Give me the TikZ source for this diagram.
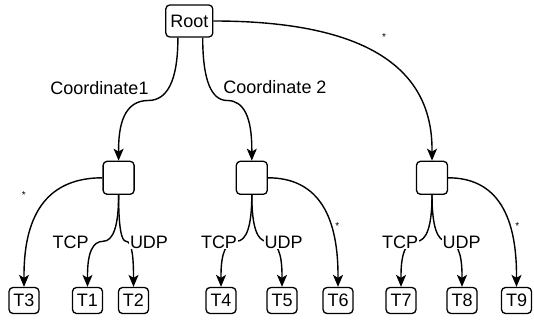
\documentclass[tikz,border=0pt]{standalone}
\usepackage{fontspec}
\setmainfont{Liberation Sans}
\usetikzlibrary{arrows.meta}
\begin{document}
\begin{tikzpicture}[x=1pt,y=-1pt,
  box/.style={draw, line width=1.3pt, rounded corners=4pt, inner sep=0pt, fill=white,
    font=\fontsize{18}{20}\selectfont},
  rootbox/.style={box, minimum width=47pt, minimum height=32pt},
  midbox/.style={box, minimum width=31pt, minimum height=33pt},
  leaf/.style={box, minimum width=30pt, minimum height=26pt},
  edge/.style={line width=1.4pt, -{Stealth[length=12pt,width=10pt,inset=3pt]}},
  lbl/.style={fill=white, inner sep=1pt, font=\fontsize{18}{20}\selectfont},
  star/.style={inner sep=0pt, font=\fontsize{10}{12}\selectfont}
]
\useasboundingbox (0,0) rectangle (534,326);

\node[rootbox] (root) at (189.3,21) {Root};
\node[midbox] (m1) at (118.6,177.8) {};
\node[midbox] (m2) at (251.8,177.8) {};
\node[midbox] (m3) at (432,177.8) {};

\node[leaf] (t3) at (24,300.5) {T3};
\node[leaf] (t1) at (87.5,300.5) {T1};
\node[leaf] (t2) at (133.5,300.5) {T2};
\node[leaf] (t4) at (221,300.5) {T4};
\node[leaf] (t5) at (282,300.5) {T5};
\node[leaf] (t6) at (338,300.5) {T6};
\node[leaf] (t7) at (401,300.5) {T7};
\node[leaf] (t8) at (462,300.5) {T8};
\node[leaf] (t9) at (516.5,300.5) {T9};

% Root edges
\draw[edge] ([xshift=-11.4pt]root.south) .. controls (177.9,79.3) and (168.0,100.5) .. (148.25,100.5)
  .. controls (128.5,100.5) and (118.6,116.8) .. (118.6,149.3) -- (m1.north);
\draw[edge] ([xshift=13.4pt]root.south) .. controls (202.7,79.3) and (210.9,100.5) .. (227.25,100.5)
  .. controls (243.6,100.5) and (251.8,116.8) .. (251.8,149.3) -- (m2.north);
\draw[edge] (root.east) .. controls (359,21) and (432,63.8) .. (432,149.3) -- (m3.north);

% m1 edges
\draw[edge] (m1.west) .. controls (50.4,177.8) and (24,210.4) .. (24,275.5) -- (t3.north);
\draw[edge] (m1.south) .. controls (118.6,225.6) and (113.4,241.3) .. (103.05,241.3)
  .. controls (92.7,241.3) and (87.5,252.7) .. (87.5,275.5) -- (t1.north);
\draw[edge] (m1.south) .. controls (118.6,225.6) and (121.1,241.3) .. (126.05,241.3)
  .. controls (131.0,241.3) and (133.5,252.7) .. (133.5,275.5) -- (t2.north);

% m2 edges
\draw[edge] (m2.south) .. controls (251.8,225.6) and (246.7,241.3) .. (236.4,241.3)
  .. controls (226.1,241.3) and (221,252.7) .. (221,275.5) -- (t4.north);
\draw[edge] (m2.south) .. controls (251.8,225.6) and (256.8,241.3) .. (266.9,241.3)
  .. controls (277.0,241.3) and (282,252.7) .. (282,275.5) -- (t5.north);
\draw[edge] (m2.east) .. controls (314.4,177.8) and (338,210.4) .. (338,275.5) -- (t6.north);

% m3 edges
\draw[edge] (m3.south) .. controls (432,225.6) and (426.8,241.3) .. (416.5,241.3)
  .. controls (406.2,241.3) and (401,252.7) .. (401,275.5) -- (t7.north);
\draw[edge] (m3.south) .. controls (432,225.6) and (437,241.3) .. (447,241.3)
  .. controls (457,241.3) and (462,252.7) .. (462,275.5) -- (t8.north);
\draw[edge] (m3.east) .. controls (493.5,177.8) and (516.5,210.4) .. (516.5,275.5) -- (t9.north);

% labels
\node[lbl] (lc1) at (99.5,88) {Coordinate1};
\node[lbl] (lc2) at (275,87) {Coordinate 2};
\node[star] (s0) at (384,37) {*};
\node[star] (s1) at (23.9,194.6) {*};
\node[star] (s2) at (337.3,225.6) {*};
\node[star] (s3) at (517.2,225.6) {*};
\node[lbl] (a1) at (70.7,242) {TCP};
\node[lbl] (b1) at (149,242) {UDP};
\node[lbl] (a2) at (219,242) {TCP};
\node[lbl] (b2) at (283.6,242) {UDP};
\node[lbl] (a3) at (400,242) {TCP};
\node[lbl] (b3) at (461.6,242) {UDP};
\end{tikzpicture}
\end{document}
